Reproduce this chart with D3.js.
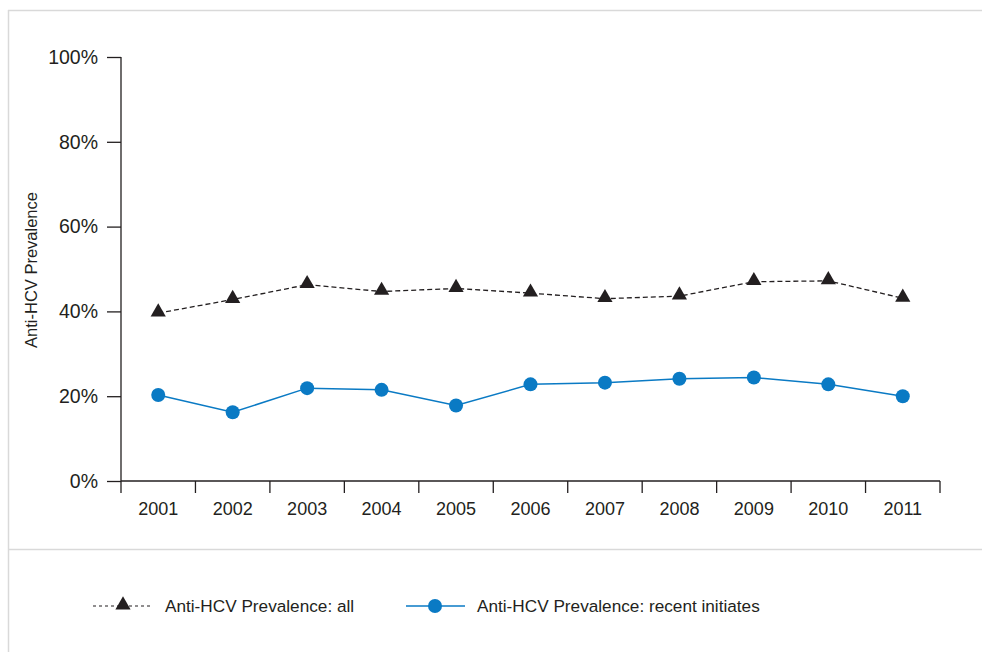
<!DOCTYPE html>
<html>
<head>
<meta charset="utf-8">
<script src="https://cdn.jsdelivr.net/npm/d3@7"></script>
<style>
  html, body { margin: 0; padding: 0; background: #fff; }
  svg { display: block; font-family: "Liberation Sans", Arial, Helvetica, sans-serif; }
</style>
</head>
<body>
<svg id="chart" width="982" height="652"></svg>
<script>
const years = ["2001","2002","2003","2004","2005","2006","2007","2008","2009","2010","2011"];
const prevalenceAll = [39.6, 42.8, 46.3, 44.7, 45.4, 44.3, 43.0, 43.6, 47.0, 47.2, 43.1];
const prevalenceRecent = [20.3, 16.2, 21.9, 21.5, 17.8, 22.8, 23.2, 24.1, 24.4, 22.8, 20.0];
const yTicks = [0, 20, 40, 60, 80, 100];
const seriesNames = ["Anti-HCV Prevalence: all", "Anti-HCV Prevalence: recent initiates"];
const yTitle = "Anti-HCV Prevalence";

const svg = d3.select("#chart");
const blue = "#0a7ac4";
const dark = "#231f20";
const frame = "#d9d9d9";

// frame
svg.append("line").attr("x1", 8).attr("x2", 982).attr("y1", 10.5).attr("y2", 10.5)
  .attr("stroke", frame).attr("stroke-width", 1.5);
svg.append("line").attr("x1", 8.5).attr("x2", 8.5).attr("y1", 10).attr("y2", 652)
  .attr("stroke", frame).attr("stroke-width", 1.5);
svg.append("line").attr("x1", 8).attr("x2", 982).attr("y1", 549.5).attr("y2", 549.5)
  .attr("stroke", frame).attr("stroke-width", 1.5);

const x = d3.scaleBand().domain(years).range([121, 940]);
const y = d3.scaleLinear().domain([0, 100]).range([481, 57]);

// y axis
const yAxis = svg.append("g").attr("transform", "translate(121,0)")
  .call(d3.axisLeft(y).tickValues(yTicks).tickSize(14).tickPadding(9).tickFormat(d => d + "%"));
yAxis.select(".domain").attr("d", `M0,${y(100)}V${y(0)}`);
yAxis.selectAll("line, path").attr("stroke", dark).attr("stroke-width", 1.3);
yAxis.selectAll("text").attr("font-size", 19.5).attr("fill", dark)
  .attr("font-family", "'Liberation Sans', Arial, sans-serif");

// x axis
const xAxis = svg.append("g").attr("transform", "translate(0,481)")
  .call(d3.axisBottom(x).tickSize(0).tickPadding(21));
xAxis.select(".domain").remove();
xAxis.selectAll("line").remove();
xAxis.append("line").attr("x1", 121).attr("x2", 940).attr("y1", 0).attr("y2", 0)
  .attr("stroke", dark).attr("stroke-width", 1.3);
const bounds = years.map(d => x(d)).concat([x(years[years.length - 1]) + x.bandwidth()]);
xAxis.selectAll(".bt").data(bounds).enter().append("line")
  .attr("x1", d => d).attr("x2", d => d).attr("y1", 0).attr("y2", 12)
  .attr("stroke", dark).attr("stroke-width", 1.3);
xAxis.selectAll("text").attr("font-size", 18).attr("fill", dark)
  .attr("font-family", "'Liberation Sans', Arial, sans-serif");

// y title
svg.append("text")
  .attr("transform", `translate(37,${(188 + 352) / 2}) rotate(-90)`)
  .attr("text-anchor", "middle")
  .attr("font-size", 16.5).attr("fill", dark)
  .text(yTitle);

const cx = d => x(d) + x.bandwidth() / 2;
const line = d3.line().x(d => cx(d[0])).y(d => y(d[1]));
const triangle = d3.symbol().type(d3.symbolTriangle).size(100);

// series: all
const allData = years.map((yr, i) => [yr, prevalenceAll[i]]);
svg.append("path").datum(allData).attr("d", line)
  .attr("fill", "none").attr("stroke", dark).attr("stroke-width", 1.3)
  .attr("stroke-dasharray", "5,3");
svg.selectAll(".tri").data(allData).enter().append("path")
  .attr("d", triangle)
  .attr("transform", d => `translate(${cx(d[0])},${y(d[1]) - 1})`)
  .attr("fill", dark);

// series: recent
const recData = years.map((yr, i) => [yr, prevalenceRecent[i]]);
svg.append("path").datum(recData).attr("d", line)
  .attr("fill", "none").attr("stroke", blue).attr("stroke-width", 1.5);
svg.selectAll(".dot").data(recData).enter().append("circle")
  .attr("cx", d => cx(d[0])).attr("cy", d => y(d[1])).attr("r", 7)
  .attr("fill", blue);

// legend
const ly = 606;
svg.append("line").attr("x1", 93).attr("x2", 151).attr("y1", ly).attr("y2", ly)
  .attr("stroke", dark).attr("stroke-width", 1.2).attr("stroke-dasharray", "3,3");
svg.append("path").attr("d", triangle).attr("transform", `translate(123,${ly - 1})`).attr("fill", dark);
svg.append("text").attr("x", 165).attr("y", ly + 6).attr("font-size", 17.2).attr("fill", dark)
  .text(seriesNames[0]);

svg.append("line").attr("x1", 406).attr("x2", 465).attr("y1", ly).attr("y2", ly)
  .attr("stroke", blue).attr("stroke-width", 1.5);
svg.append("circle").attr("cx", 435).attr("cy", ly).attr("r", 7).attr("fill", blue);
svg.append("text").attr("x", 477).attr("y", ly + 6).attr("font-size", 17.2).attr("fill", dark)
  .text(seriesNames[1]);
</script>
</body>
</html>
